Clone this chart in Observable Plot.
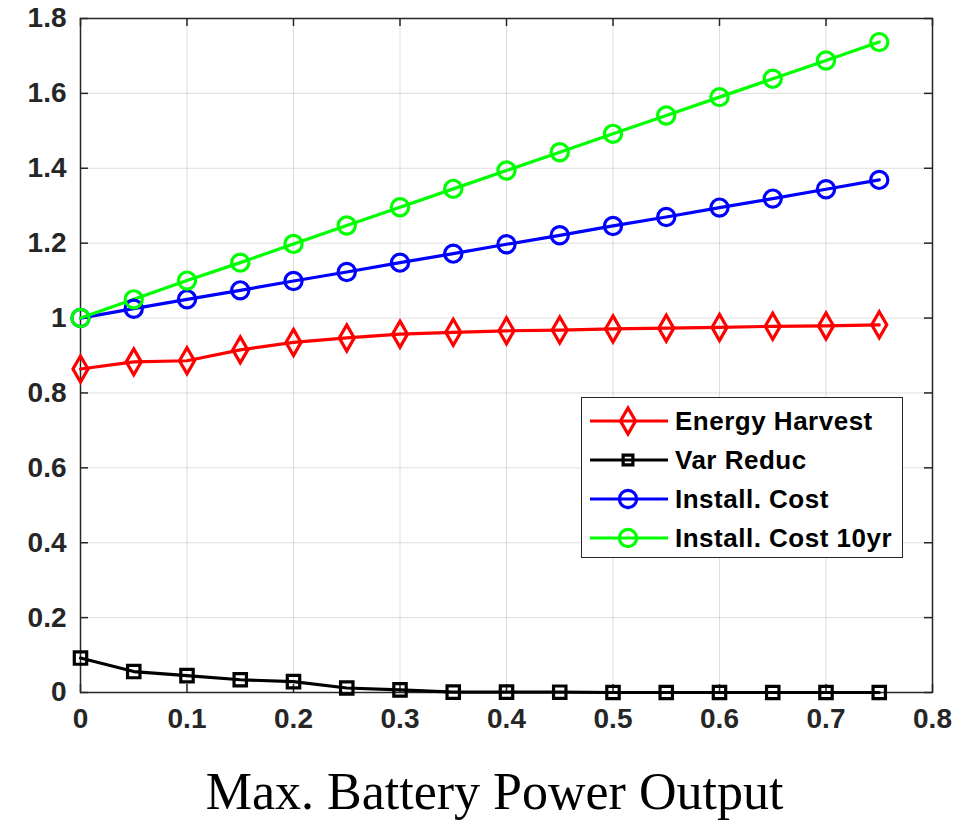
<!DOCTYPE html>
<html>
<head>
<meta charset="utf-8">
<script src="https://cdn.jsdelivr.net/npm/d3@7"></script>
<script src="https://cdn.jsdelivr.net/npm/@observablehq/plot@0.6"></script>
<style>
  html, body { margin: 0; padding: 0; background: #fff; }
  #wrap { position: relative; width: 968px; height: 825px; }
  #legend {
    position: absolute; left: 581px; top: 397px; width: 322px; height: 161px;
    border: 1.5px solid #262626; background: #fff; box-sizing: border-box;
    font-family: "Liberation Sans", Arial, sans-serif; font-weight: bold; font-size: 26px; color: #000;
  }
  .row { position: absolute; left: 0; height: 38px; display: flex; align-items: center; }
  .row svg { display: block; }
  .row span { margin-left: 3px; letter-spacing: 0.5px; }
</style>
</head>
<body>
<div id="wrap"><div id="chart"></div><div id="legend"></div></div>
<script>
const xValues = [0, 0.05, 0.1, 0.15, 0.2, 0.25, 0.3, 0.35, 0.4, 0.45, 0.5, 0.55, 0.6, 0.65, 0.7, 0.75];
const energyHarvest = [0.864, 0.883, 0.886, 0.915, 0.935, 0.947, 0.957, 0.962, 0.966, 0.968, 0.971, 0.973, 0.975, 0.978, 0.979, 0.982];
const varReduc = [0.092, 0.056, 0.045, 0.034, 0.029, 0.012, 0.007, 0.001, 0.001, 0.0008, 0, 0, 0, 0, 0, 0];
const installCost = [1.0, 1.025, 1.05, 1.074, 1.099, 1.123, 1.148, 1.172, 1.197, 1.221, 1.246, 1.27, 1.295, 1.319, 1.344, 1.369];
const installCost10yr = [1.0, 1.05, 1.10, 1.148, 1.198, 1.247, 1.296, 1.345, 1.394, 1.443, 1.492, 1.541, 1.59, 1.639, 1.688, 1.737];

const seriesNames = ["Energy Harvest", "Var Reduc", "Install. Cost", "Install. Cost 10yr"];
const seriesColors = ["#ff0000", "#000000", "#0000ff", "#00ff00"];
const seriesSymbols = ["diamond", "square", "circle", "circle"];
const seriesRadius = [7.9, 7.0, 8.6, 8.6];
const xTicks = [0, 0.1, 0.2, 0.3, 0.4, 0.5, 0.6, 0.7, 0.8];
const yTicks = [0, 0.2, 0.4, 0.6, 0.8, 1, 1.2, 1.4, 1.6, 1.8];
const xLabel = "Max. Battery Power Output";

const seriesValues = [energyHarvest, varReduc, installCost, installCost10yr];
const data = seriesNames.flatMap((name, i) =>
  xValues.map((x, j) => ({ series: name, x, y: seriesValues[i][j], r: seriesRadius[i] }))
);

const W = 968, H = 825, mL = 80, mR = 36, mT = 18, mB = 133;
const innerH = H - mT - mB, innerW = W - mL - mR;
const tickLen = 8;
const fmt = d3.format("~g");

const chart = Plot.plot({
  width: W, height: H,
  marginLeft: mL, marginRight: mR, marginTop: mT, marginBottom: mB,
  x: { domain: [0, 0.8], label: null },
  y: { domain: [0, 1.8], label: null },
  color: { domain: seriesNames, range: seriesColors },
  symbol: { domain: seriesNames, range: seriesSymbols },
  r: { type: "identity" },
  style: { fontFamily: "'Liberation Sans', Arial, sans-serif", fontSize: "28px", fontWeight: "bold", color: "#262626", background: "#fff" },
  marks: [
    Plot.gridX(xTicks, { stroke: "#000", strokeOpacity: 0.13, strokeWidth: 1 }),
    Plot.gridY(yTicks, { stroke: "#000", strokeOpacity: 0.13, strokeWidth: 1 }),
    Plot.ruleX(xTicks, { stroke: "#262626", strokeWidth: 1.5, insetTop: innerH - tickLen }),
    Plot.ruleX(xTicks, { stroke: "#262626", strokeWidth: 1.5, insetBottom: innerH - tickLen }),
    Plot.ruleY(yTicks, { stroke: "#262626", strokeWidth: 1.5, insetRight: innerW - tickLen }),
    Plot.ruleY(yTicks, { stroke: "#262626", strokeWidth: 1.5, insetLeft: innerW - tickLen }),
    Plot.frame({ stroke: "#262626", strokeWidth: 1.5 }),
    Plot.axisX(xTicks, { tickSize: 0, tickPadding: 16, fill: "#262626", fontSize: 28, tickFormat: fmt }),
    Plot.axisY(yTicks, { tickSize: 0, tickPadding: 14, fill: "#262626", fontSize: 28, tickFormat: fmt }),
    Plot.line(data, { x: "x", y: "y", z: "series", stroke: "series", strokeWidth: 3.2 }),
    Plot.dot(data, { x: "x", y: "y", stroke: "series", symbol: "series", r: "r", fill: "none", strokeWidth: 3.2 }),
    Plot.text([xLabel], { text: d => d, frameAnchor: "bottom", dy: 116, dx: -12, fontFamily: "'Liberation Serif', 'Times New Roman', serif", fontSize: 52, fontWeight: "normal", fill: "#000" })
  ]
});
document.getElementById("chart").appendChild(chart);

// legend
const legend = d3.select("#legend");
const rowCenters = [23, 62, 101, 140];
seriesNames.forEach((name, i) => {
  const row = legend.append("div").attr("class", "row").style("top", (rowCenters[i] - 19) + "px");
  const svg = row.append("svg").attr("width", 90).attr("height", 38);
  svg.append("line").attr("x1", 8).attr("x2", 86).attr("y1", 19).attr("y2", 19)
    .attr("stroke", seriesColors[i]).attr("stroke-width", 3.2);
  const symMap = { diamond: d3.symbolDiamond, square: d3.symbolSquare, circle: d3.symbolCircle };
  const r = i === 1 ? 5.5 : seriesRadius[i];
  svg.append("path").attr("transform", "translate(46,19)")
    .attr("d", d3.symbol(symMap[seriesSymbols[i]], Math.PI * r * r)())
    .attr("fill", "none").attr("stroke", seriesColors[i]).attr("stroke-width", 3.2);
  row.append("span").text(name);
});
</script>
</body>
</html>
